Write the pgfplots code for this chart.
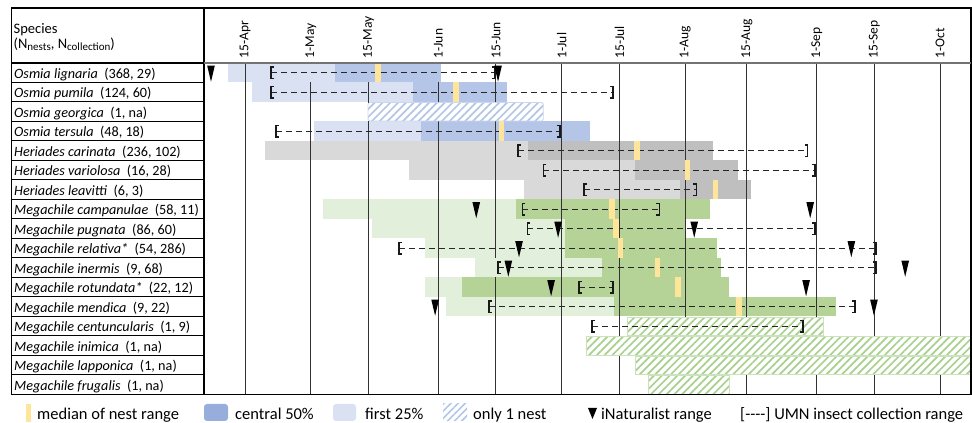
\documentclass[border=0pt]{standalone}
\usepackage{fontspec}
\setmainfont{Carlito}
\usepackage{pgfplots}
\pgfplotsset{compat=1.18}
\usetikzlibrary{patterns.meta}

\definecolor{bluelight}{HTML}{DAE1F3}
\definecolor{bluedark}{HTML}{B4C5E7}
\definecolor{bluelegend}{HTML}{97ADDB}
\definecolor{graylight}{HTML}{D9D9D9}
\definecolor{graydark}{HTML}{BFBFBF}
\definecolor{greenlight}{HTML}{E2EFDA}
\definecolor{greendark}{HTML}{B6D397}
\definecolor{medyellow}{HTML}{FFE599}
\definecolor{hatchblue}{HTML}{B4C6E7}
\definecolor{hatchgreen}{HTML}{A9D08E}

\pgfdeclareplotmark{itri}{%
  \pgfpathmoveto{\pgfqpoint{-3.8pt}{7pt}}%
  \pgfpathlineto{\pgfqpoint{3.8pt}{7pt}}%
  \pgfpathlineto{\pgfqpoint{0pt}{-9pt}}%
  \pgfpathclose\pgfusepathqfill}
\pgfdeclareplotmark{medbar}{%
  \pgfpathrectangle{\pgfqpoint{-2.7pt}{-9.75pt}}{\pgfqpoint{5.4pt}{19.5pt}}\pgfusepathqfill}
\pgfdeclareplotmark{lbr}{%
  \pgfpathmoveto{\pgfqpoint{2.8pt}{5.8pt}}%
  \pgfpathlineto{\pgfqpoint{0pt}{5.8pt}}%
  \pgfpathlineto{\pgfqpoint{0pt}{-5.8pt}}%
  \pgfpathlineto{\pgfqpoint{2.8pt}{-5.8pt}}%
  \pgfusepathqstroke}
\pgfdeclareplotmark{rbr}{%
  \pgfpathmoveto{\pgfqpoint{-2.8pt}{5.8pt}}%
  \pgfpathlineto{\pgfqpoint{0pt}{5.8pt}}%
  \pgfpathlineto{\pgfqpoint{0pt}{-5.8pt}}%
  \pgfpathlineto{\pgfqpoint{-2.8pt}{-5.8pt}}%
  \pgfusepathqstroke}

% rows: y = 18 - row number (Osmia lignaria = 17 ... Megachile frugalis = 1)
% first 25% segments (start -> q1), nan separates bars
\pgfplotstableread{
x y
100.9 17
126.9 17
nan nan
106.7 16
145.9 16
nan nan
121.8 14
147.8 14
}\bluefirst
\pgfplotstableread{
x y
126.9 17
152.7 17
nan nan
145.9 16
168.7 16
nan nan
147.8 14
188.9 14
}\bluecentral
\pgfplotstableread{
x y
109.9 13
173.8 13
nan nan
144.9 12
199.8 12
nan nan
172.8 11
210.8 11
}\grayfirst
\pgfplotstableread{
x y
173.8 13
218.8 13
nan nan
199.8 12
224.9 12
nan nan
210.8 11
228.0 11
}\graycentral
\pgfplotstableread{
x y
124.0 10
170.9 10
nan nan
135.9 9
182.8 9
nan nan
148.8 8
182.8 8
nan nan
160.9 7
191.8 7
nan nan
148.8 6
157.8 6
nan nan
153.9 5
194.7 5
}\greenfirst
\pgfplotstableread{
x y
170.9 10
218.1 10
nan nan
182.8 9
212.0 9
nan nan
182.8 8
219.8 8
nan nan
191.8 7
220.8 7
nan nan
157.8 6
222.7 6
nan nan
194.7 5
248.7 5
}\greencentral
\pgfplotstableread{
x y
137.3 17
156.3 16
167.3 14
200.3 13
212.5 12
219.3 11
194.2 10
195.2 9
196.2 8
205.2 7
210.3 6
225.1 5
}\medians
\pgfplotstableread{
lo hi y
111.3 165.8 17
111.3 194.5 16
112.5 181.6 14
171.4 241.7 13
177.5 243.6 12
187.4 214.7 11
172.4 205.7 10
173.6 243.6 9
142.4 258.4 8
166.5 258.4 7
186.2 194.5 6
164.3 253.3 5
189.4 240.7 4
}\umn
\pgfplotstableread{
x y
111.3 17
165.8 17
nan nan
111.3 16
194.5 16
nan nan
112.5 14
181.6 14
nan nan
171.4 13
241.7 13
nan nan
177.5 12
243.6 12
nan nan
187.4 11
214.7 11
nan nan
172.4 10
205.7 10
nan nan
173.6 9
243.6 9
nan nan
142.4 8
258.4 8
nan nan
166.5 7
258.4 7
nan nan
186.2 6
194.5 6
nan nan
164.3 5
253.3 5
nan nan
189.4 4
240.7 4
}\umnlines
\pgfplotstableread{
x y
96.7 17
166.5 17
161.2 10
242.4 10
181.1 9
214.2 9
171.6 8
252.4 8
169.0 7
265.5 7
179.4 6
241.4 6
151.2 5
257.9 5
}\inat

\begin{document}
\begin{tikzpicture}
\useasboundingbox (0pt,0pt) rectangle (972pt,423pt);
\begin{axis}[
  at={(204pt,28.5pt)}, anchor=south west,
  scale only axis, width=767pt, height=331.5pt,
  xmin=95, xmax=281.5, ymin=0.5, ymax=17.5,
  axis line style={draw=none},
  unbounded coords=jump,
  clip=false,
  ytick=\empty,
  xtick={105,121,135,152,166,182,196,212,227,244,258,274},
  xticklabels={15-Apr,1-May,15-May,1-Jun,15-Jun,1-Jul,15-Jul,1-Aug,15-Aug,1-Sep,15-Sep,1-Oct},
  xticklabel pos=upper,
  major tick length=0pt,
  xticklabel shift=4.5pt,
  xticklabel style={rotate=90, anchor=west, inner sep=0pt, font=\fontsize{13.5}{14}\selectfont},
]
% first 25% and central 50% bars
\addplot[bluelight, line width=19.5pt] table {\bluefirst};
\addplot[bluedark, line width=19.5pt] table {\bluecentral};
\addplot[graylight, line width=19.5pt] table {\grayfirst};
\addplot[graydark, line width=19.5pt] table {\graycentral};
\addplot[greenlight, line width=19.5pt] table {\greenfirst};
\addplot[greendark, line width=19.5pt] table {\greencentral};
% date lines (hidden behind the Osmia lignaria bar for 1-May, 15-May, 1-Jun, and behind M. inermis for 15-Jun)
\pgfplotsinvokeforeach{105,182,196,212,227,244,258,274}{
  \draw[black!80, line width=1pt] (axis cs:#1,0.5) -- (axis cs:#1,17.5);
}
\pgfplotsinvokeforeach{121,135,152}{
  \draw[black!80, line width=1pt] (axis cs:#1,0.5) -- (axis cs:#1,16.5);
}
\draw[black!80, line width=1pt] (axis cs:166,0.5) -- (axis cs:166,6.5);
\draw[black!80, line width=1pt] (axis cs:166,7.5) -- (axis cs:166,17.5);
% only 1 nest (hatched)
\addplot[fill=white, draw=none] coordinates {(134.9,14.53) (177.5,14.53) (177.5,15.47) (134.9,15.47)} --cycle;
\addplot[draw=hatchblue!70, line width=0.8pt, rounded corners=1.5pt, pattern={Lines[angle=45,distance=5.5pt,line width=1.7pt]}, pattern color=hatchblue] coordinates {(134.9,14.53) (177.5,14.53) (177.5,15.47) (134.9,15.47)} --cycle;
\addplot[fill=white, draw=none] coordinates {(197.9,3.53) (245.5,3.53) (245.5,4.47) (197.9,4.47)} --cycle;
\addplot[draw=hatchgreen!60, line width=0.8pt, pattern={Lines[angle=45,distance=5.5pt,line width=1.7pt]}, pattern color=hatchgreen] coordinates {(197.9,3.53) (245.5,3.53) (245.5,4.47) (197.9,4.47)} --cycle;
\addplot[fill=white, draw=none] coordinates {(187.9,2.53) (281.5,2.53) (281.5,3.47) (187.9,3.47)} --cycle;
\addplot[draw=hatchgreen!60, line width=0.8pt, pattern={Lines[angle=45,distance=5.5pt,line width=1.7pt]}, pattern color=hatchgreen] coordinates {(187.9,2.53) (281.5,2.53) (281.5,3.47) (187.9,3.47)} --cycle;
\addplot[fill=white, draw=none] coordinates {(199.8,1.53) (281.5,1.53) (281.5,2.47) (199.8,2.47)} --cycle;
\addplot[draw=hatchgreen!60, line width=0.8pt, pattern={Lines[angle=45,distance=5.5pt,line width=1.7pt]}, pattern color=hatchgreen] coordinates {(199.8,1.53) (281.5,1.53) (281.5,2.47) (199.8,2.47)} --cycle;
\addplot[fill=white, draw=none] coordinates {(203.0,0.53) (222.7,0.53) (222.7,1.47) (203.0,1.47)} --cycle;
\addplot[draw=hatchgreen!60, line width=0.8pt, pattern={Lines[angle=45,distance=5.5pt,line width=1.7pt]}, pattern color=hatchgreen] coordinates {(203.0,0.53) (222.7,0.53) (222.7,1.47) (203.0,1.47)} --cycle;
% UMN collection ranges
\addplot[black!85, line width=1.4pt, dash pattern=on 6pt off 4pt] table {\umnlines};
\addplot[only marks, mark=lbr, mark options={black!90, line width=1.5pt, solid}] table[x=lo, y=y] {\umn};
\addplot[only marks, mark=rbr, mark options={black!90, line width=1.5pt, solid}] table[x=hi, y=y] {\umn};
% medians
\addplot[only marks, mark=medbar, mark options={medyellow, draw=none, fill=medyellow}] table {\medians};
% iNaturalist range
\addplot[only marks, mark=itri, mark options={black, fill=black}] table {\inat};
\end{axis}

% table frame
\draw[black, line width=1.1pt] (11.5pt,415pt) rectangle (971pt,28.5pt);
\draw[black, line width=1.1pt] (204pt,415pt) -- (204pt,28.5pt);
\draw[black, line width=1.1pt] (11.5pt,360pt) -- (204pt,360pt);
\draw[black!55, line width=1.6pt] (204pt,360pt) -- (971pt,360pt);
\foreach \k in {1,...,16}{
  \draw[black, line width=1pt] (11.5pt,{360pt-19.5pt*\k}) -- (204pt,{360pt-19.5pt*\k});
}
% header
\node[anchor=base west, inner sep=0pt, font=\fontsize{14.5}{16}\selectfont] at (13.5pt,389.7pt) {Species};
\node[anchor=base west, inner sep=0pt, font=\fontsize{14.5}{16}\selectfont] at (13.5pt,374pt)
  {(N{\raisebox{-1.5pt}{\fontsize{11}{12}\selectfont nests}}, N{\raisebox{-1.5pt}{\fontsize{11}{12}\selectfont collection}})};
% species names
\foreach \k/\name/\n in {
  1/Osmia lignaria/{(368, 29)},
  2/Osmia pumila/{(124, 60)},
  3/Osmia georgica/{(1, na)},
  4/Osmia tersula/{(48, 18)},
  5/Heriades carinata/{(236, 102)},
  6/Heriades variolosa/{(16, 28)},
  7/Heriades leavitti/{(6, 3)},
  8/Megachile campanulae/{(58, 11)},
  9/Megachile pugnata/{(86, 60)},
  10/Megachile relativa*/{(54, 286)},
  11/Megachile inermis/{(9, 68)},
  12/Megachile rotundata*/{(22, 12)},
  13/Megachile mendica/{(9, 22)},
  14/Megachile centuncularis/{(1, 9)},
  15/Megachile inimica/{(1, na)},
  16/Megachile lapponica/{(1, na)},
  17/Megachile frugalis/{(1, na)}}{
  \node[anchor=base west, inner sep=0pt, font=\fontsize{14.2}{16}\selectfont] at (14pt,{364.35pt-19.5pt*\k}) {\textit{\name}\ \ \n};
}
% legend
\fill[medyellow] (26pt,1pt) rectangle (30.5pt,19pt);
\node[anchor=base west, inner sep=0pt, font=\fontsize{16.5}{18}\selectfont] at (37pt,3pt) {median of nest range};
\fill[bluelegend, rounded corners=3pt] (204pt,2pt) rectangle (228pt,19pt);
\node[anchor=base west, inner sep=0pt, font=\fontsize{16.5}{18}\selectfont] at (235pt,3pt) {central 50\%};
\fill[bluelight, rounded corners=3pt] (333pt,2pt) rectangle (356pt,19pt);
\node[anchor=base west, inner sep=0pt, font=\fontsize{16.5}{18}\selectfont] at (365pt,3pt) {first 25\%};
\path[pattern={Lines[angle=45,distance=5pt,line width=1.6pt]}, pattern color=hatchblue] (443pt,2pt) rectangle (467pt,19pt);
\node[anchor=base west, inner sep=0pt, font=\fontsize{16.5}{18}\selectfont] at (473pt,3pt) {only 1 nest};
\fill[black] (588pt,15pt) -- (597pt,15pt) -- (592.5pt,4pt) -- cycle;
\node[anchor=base west, inner sep=0pt, font=\fontsize{16.5}{18}\selectfont] at (601pt,3pt) {iNaturalist range};
\node[anchor=base west, inner sep=0pt, font=\fontsize{16.5}{18}\selectfont] at (740pt,3pt) {[-{}-{}-{}-] UMN insect collection range};
\end{tikzpicture}
\end{document}
